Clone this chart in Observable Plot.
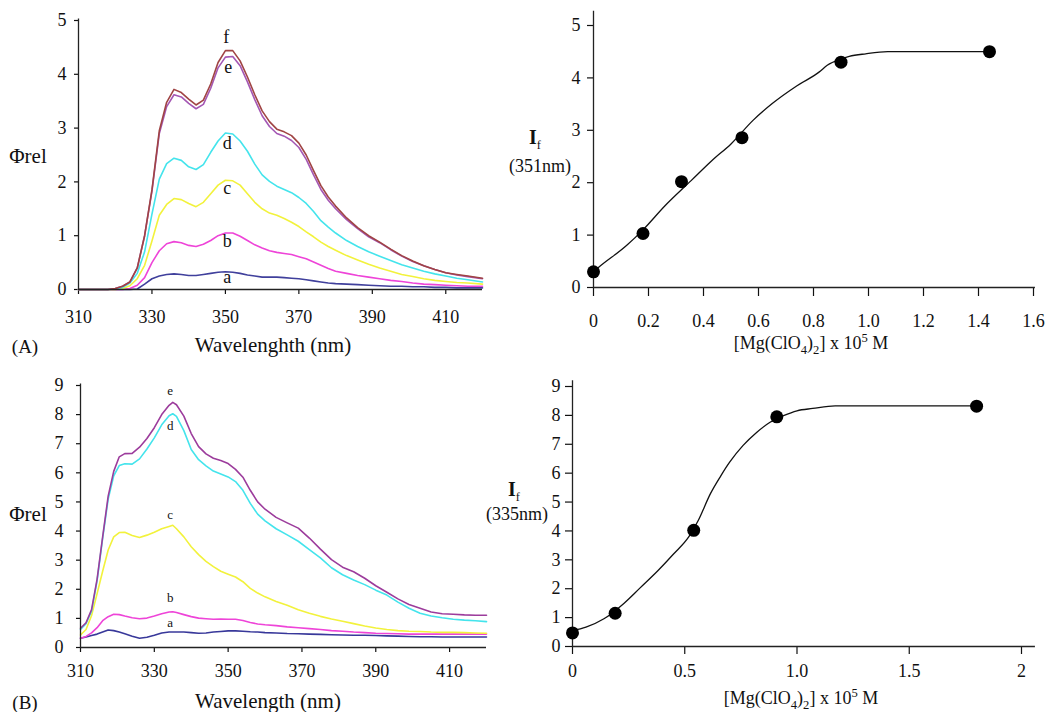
<!DOCTYPE html>
<html><head><meta charset="utf-8">
<script src="https://cdn.jsdelivr.net/npm/d3@7"></script>
<script src="https://cdn.jsdelivr.net/npm/@observablehq/plot@0.6"></script>
<style>
body{margin:0;background:#fff;}
#root{position:relative;width:1050px;height:712px;overflow:hidden;font-family:"Liberation Serif","DejaVu Serif",serif;color:#111;background:#fff;}
.p{position:absolute;}
.t{position:absolute;transform:translate(-50%,-50%);white-space:nowrap;line-height:1;}
sub,sup{line-height:0;}
svg text{font-family:"Liberation Serif","DejaVu Serif",serif;}
</style></head><body><div id="root"></div>
<script>
// ---------- Panel A (left): spectra, emission at 351 nm ----------
const wlA = [310,318,320,322,324,326,328,330,332,334,336,338,340,342,344,346,348,350,352,354,356,358,360,362,364,366,368,370,372,374,376,378,380,383,386,389,392,395,398,401,404,407,410,413,416,420];
const specA_a = [0,0,0,0,0,0.01,0.10,0.20,0.25,0.28, 0.29,0.28,0.26,0.26,0.28,0.30,0.32,0.33,0.32,0.30, 0.27,0.25,0.23,0.23,0.23,0.22,0.21,0.20,0.18,0.16, 0.14,0.12,0.11,0.10,0.09,0.08,0.07,0.06,0.06,0.05, 0.05,0.04,0.04,0.03,0.03,0.03];
const specA_b = [0,0,0,0,0.02,0.08,0.22,0.50,0.72,0.85, 0.89,0.87,0.82,0.80,0.84,0.91,1.00,1.05,1.05,0.99, 0.91,0.83,0.77,0.72,0.69,0.67,0.65,0.61,0.57,0.51, 0.45,0.39,0.34,0.30,0.26,0.23,0.20,0.17,0.15,0.12, 0.10,0.09,0.08,0.07,0.06,0.06];
const specA_c = [0,0,0,0.02,0.07,0.20,0.45,0.90,1.38,1.58, 1.69,1.67,1.60,1.54,1.62,1.78,1.94,2.03,2.02,1.94, 1.78,1.62,1.50,1.42,1.38,1.32,1.25,1.17,1.07,0.98, 0.88,0.80,0.73,0.63,0.55,0.47,0.40,0.34,0.28,0.24, 0.20,0.17,0.15,0.13,0.12,0.10];
const specA_d = [0,0,0.01,0.04,0.12,0.30,0.70,1.40,2.05,2.34, 2.44,2.40,2.28,2.23,2.32,2.55,2.76,2.91,2.89,2.76, 2.57,2.33,2.13,2.01,1.92,1.86,1.80,1.71,1.60,1.45, 1.28,1.16,1.05,0.91,0.80,0.70,0.62,0.54,0.46,0.40, 0.34,0.29,0.25,0.21,0.18,0.14];
const specA_e = [0,0,0.02,0.06,0.14,0.40,1.0,1.83,2.90,3.40, 3.62,3.58,3.46,3.36,3.44,3.74,4.12,4.32,4.33,4.16, 3.86,3.53,3.23,3.03,2.90,2.85,2.77,2.64,2.42,2.13, 1.86,1.66,1.50,1.30,1.13,0.98,0.87,0.74,0.62,0.52, 0.44,0.37,0.31,0.27,0.24,0.20];
const specA_f = [0,0,0.02,0.06,0.14,0.40,1.0,1.85,2.95,3.48, 3.72,3.66,3.54,3.43,3.52,3.82,4.22,4.44,4.44,4.25, 3.95,3.62,3.32,3.12,2.98,2.93,2.86,2.72,2.50,2.21, 1.93,1.72,1.55,1.33,1.15,1.00,0.88,0.75,0.63,0.53, 0.44,0.37,0.31,0.28,0.25,0.21];
const curveLabelsA = ["a","b","c","d","e","f"];
const curveLabelXA = [350.5,350.5,350.5,350.5,350.8,350.2];
const curveLabelYA = [0.23,0.90,1.88,2.71,4.13,4.69];
const xTicksA = [310,330,350,370,390,410];
const xTickLabelsA = ["310","330","350","370","390","410"];
const yTicksA = [0,1,2,3,4,5];
const yTickLabelsA = ["0","1","2","3","4","5"];

// ---------- Panel A (right): titration at 351 nm ----------
const concA = [0, 0.18, 0.32, 0.54, 0.90, 1.44];
const ifA = [0.30, 1.03, 2.02, 2.86, 4.30, 4.50];
const fitXA = [0, 0.02, 0.12, 0.18, 0.26, 0.355, 0.43, 0.50, 0.58, 0.65, 0.74, 0.82, 0.85, 0.90, 0.93, 0.99, 1.07, 1.45];
const fitYA = [0.30, 0.39, 0.80, 1.10, 1.56, 2.04, 2.42, 2.74, 3.19, 3.51, 3.85, 4.11, 4.24, 4.36, 4.41, 4.46, 4.50, 4.50];
const xTicksAR = [0,0.2,0.4,0.6,0.8,1.0,1.2,1.4,1.6];
const xTickLabelsAR = ["0","0.2","0.4","0.6","0.8","1.0","1.2","1.4","1.6"];
const yTicksAR = [0,1,2,3,4,5];
const yTickLabelsAR = ["0","1","2","3","4","5"];

// ---------- Panel B (left): spectra, emission at 335 nm ----------
const wlB = [310,311.5,313,314.5,316,317.5,319,320.5,322,324, 326,328,330,332,334,335,336,338,340,342, 344,346,348,350,352,354,356,358,360,363, 366,369,372,375,378,381,384,387,390,393, 396,399,402,405,408,411,414,417,420];
const specB_a = [0.32,0.36,0.41,0.46,0.53,0.60,0.58,0.53,0.47,0.39, 0.32,0.35,0.42,0.50,0.53,0.53,0.53,0.53,0.51,0.49, 0.50,0.53,0.55,0.57,0.57,0.56,0.54,0.53,0.51,0.50, 0.48,0.47,0.46,0.45,0.44,0.43,0.42,0.42,0.41,0.40, 0.39,0.38,0.37,0.37,0.36,0.36,0.36,0.36,0.36];
const specB_b = [0.32,0.38,0.50,0.68,0.92,1.06,1.14,1.13,1.08,1.02, 0.99,1.01,1.08,1.16,1.22,1.23,1.20,1.13,1.06,1.01, 0.99,0.97,0.98,0.97,0.97,0.93,0.86,0.81,0.78,0.75, 0.71,0.68,0.65,0.62,0.58,0.56,0.53,0.51,0.49,0.48, 0.47,0.46,0.46,0.46,0.46,0.46,0.46,0.46,0.46];
const specB_c = [0.43,0.62,1.10,1.85,2.62,3.35,3.80,3.95,3.96,3.85, 3.78,3.86,3.96,4.08,4.16,4.20,4.08,3.80,3.46,3.19, 2.96,2.78,2.62,2.52,2.42,2.26,2.03,1.87,1.74,1.58, 1.45,1.30,1.18,1.07,0.98,0.90,0.82,0.74,0.67,0.62, 0.58,0.56,0.55,0.53,0.52,0.52,0.51,0.50,0.49];
const specB_d = [0.62,0.82,1.25,2.30,3.75,5.10,5.90,6.25,6.31,6.30, 6.48,6.82,7.20,7.65,7.96,8.03,7.94,7.45,6.80,6.45, 6.24,6.06,5.96,5.86,5.70,5.40,4.95,4.58,4.35,4.08, 3.87,3.65,3.36,3.08,2.74,2.50,2.32,2.16,1.97,1.80, 1.56,1.35,1.18,1.08,1.02,0.97,0.94,0.92,0.89];
const specB_e = [0.66,0.85,1.30,2.35,3.80,5.20,6.05,6.55,6.66,6.67, 6.88,7.18,7.55,8.00,8.32,8.42,8.34,7.95,7.35,6.90, 6.65,6.50,6.42,6.32,6.12,5.85,5.40,5.00,4.75,4.47, 4.28,4.10,3.76,3.38,3.02,2.76,2.60,2.38,2.12,1.90, 1.67,1.48,1.35,1.22,1.16,1.14,1.12,1.11,1.11];
const curveLabelsB = ["a","b","c","d","e"];
const curveLabelXB = [334.3,334.3,334.3,334.3,334.3];
const curveLabelYB = [0.86,1.69,4.55,7.60,8.83];
const xTicksB = [310,330,350,370,390,410];
const xTickLabelsB = ["310","330","350","370","390","410"];
const yTicksB = [0,1,2,3,4,5,6,7,8,9];
const yTickLabelsB = ["0","1","2","3","4","5","6","7","8","9"];

// ---------- Panel B (right): titration at 335 nm ----------
const concB = [0, 0.19, 0.54, 0.91, 1.80];
const ifB = [0.47, 1.15, 4.02, 7.95, 8.32];
const fitXB = [0, 0.06, 0.14, 0.23, 0.30, 0.38, 0.45, 0.52, 0.56, 0.615, 0.66, 0.70, 0.76, 0.82, 0.88, 0.94, 1.0, 1.07, 1.17, 1.80];
const fitYB = [0.55, 0.67, 0.96, 1.50, 2.02, 2.62, 3.20, 3.82, 4.36, 5.30, 5.90, 6.38, 6.96, 7.41, 7.76, 7.99, 8.16, 8.24, 8.33, 8.33];
const xTicksBR = [0,0.5,1.0,1.5,2];
const xTickLabelsBR = ["0","0.5","1.0","1.5","2"];
const yTicksBR = [0,1,2,3,4,5,6,7,8,9];
const yTickLabelsBR = ["0","1","2","3","4","5","6","7","8","9"];

// ---------- helpers ----------
const colA = {a:"#40409c", b:"#ee44d8", c:"#f2f23c", d:"#44e4ec", e:"#a457b4", f:"#a04444"};
const colB = {a:"#38389a", b:"#ee44d8", c:"#f2f23c", d:"#44e4ec", e:"#9c3c9c"};
const rows = (xs, ys) => xs.map((x, i) => ({x, y: ys[i]}));
const fmt = (ticks, labels) => { const m = new Map(ticks.map((t, i) => [t, labels[i]])); return d => m.get(d) ?? String(d); };
const FONT = '"Liberation Serif","DejaVu Serif",serif';
const baseStyle = {fontFamily: FONT, fontSize: "18px", color: "#111", background: "transparent", overflow: "visible"};
const root = document.getElementById("root");
function place(el, left, top) { const w = document.createElement("div"); w.className = "p"; w.style.left = left + "px"; w.style.top = top + "px"; w.appendChild(el); root.appendChild(w); }
function label(html, x, y, size, extra) { const d = document.createElement("div"); d.className = "t"; d.style.left = x + "px"; d.style.top = y + "px"; d.style.fontSize = size + "px"; if (extra) Object.assign(d.style, extra); d.innerHTML = html; root.appendChild(d); }

// ---------- Plot A left ----------
const seriesA = [["a",specA_a],["b",specA_b],["c",specA_c],["d",specA_d],["e",specA_e],["f",specA_f]];
place(Plot.plot({
  width: 510, height: 335, marginLeft: 78, marginRight: 28, marginTop: 20, marginBottom: 46,
  style: baseStyle,
  x: {domain: [310, 420]}, y: {domain: [0, 5]},
  marks: [
    Plot.axisX({ticks: xTicksA, tickFormat: fmt(xTicksA, xTickLabelsA), tickSize: 5, tickPadding: 15.5, label: null, strokeWidth: 1.2, fontFamily: FONT}),
    Plot.axisY({ticks: yTicksA, tickFormat: fmt(yTicksA, yTickLabelsA), tickSize: 4, tickPadding: 8, label: null, strokeWidth: 1.2, fontFamily: FONT}),
    ...seriesA.map(([k, v]) => Plot.line(rows(wlA, v), {x: "x", y: "y", stroke: colA[k], strokeWidth: 1.6})),
    Plot.ruleY([0], {x1: 310, x2: 420, stroke: "#222", strokeWidth: 1.3}),
    Plot.ruleX([310], {y1: 0, y2: 5.03, stroke: "#222", strokeWidth: 1.3}),
    Plot.text(curveLabelsA, {x: (d, i) => curveLabelXA[i], y: (d, i) => curveLabelYA[i], text: d => d, fontSize: 18, fill: "#111", fontFamily: FONT})
  ]
}), 0, 0);

// ---------- Plot A right ----------
place(Plot.plot({
  width: 540, height: 335, marginLeft: 83, marginRight: 17, marginTop: 25, marginBottom: 48,
  style: baseStyle,
  x: {domain: [0, 1.6]}, y: {domain: [0, 5]},
  marks: [
    Plot.axisX({ticks: xTicksAR, tickFormat: fmt(xTicksAR, xTickLabelsAR), tickSize: 9, tickPadding: 18, label: null, strokeWidth: 1.2, fontFamily: FONT}),
    Plot.axisY({ticks: yTicksAR, tickFormat: fmt(yTicksAR, yTickLabelsAR), tickSize: 6, tickPadding: 7, label: null, strokeWidth: 1.2, fontFamily: FONT}),
    Plot.ruleY([0], {x1: 0, x2: 1.607, stroke: "#222", strokeWidth: 1.3}),
    Plot.ruleX([0], {y1: 0, y2: 5.27, stroke: "#222", strokeWidth: 1.3}),
    Plot.line(rows(fitXA, fitYA), {x: "x", y: "y", stroke: "#111", strokeWidth: 1.3, curve: "monotone-x"}),
    Plot.dot(rows(concA, ifA), {x: "x", y: "y", r: 6.5, fill: "#000", stroke: "none"})
  ]
}), 510, 0);

// ---------- Plot B left ----------
const seriesB = [["a",specB_a],["b",specB_b],["c",specB_c],["d",specB_d],["e",specB_e]];
place(Plot.plot({
  width: 510, height: 357, marginLeft: 80, marginRight: 24, marginTop: 30, marginBottom: 65,
  style: baseStyle,
  x: {domain: [310, 420]}, y: {domain: [0, 9]},
  marks: [
    Plot.axisX({ticks: xTicksB, tickFormat: fmt(xTicksB, xTickLabelsB), tickSize: 5, tickPadding: 12, label: null, strokeWidth: 1.2, fontFamily: FONT}),
    Plot.axisY({ticks: yTicksB, tickFormat: fmt(yTicksB, yTickLabelsB), tickSize: 4, tickPadding: 13, label: null, strokeWidth: 1.2, fontFamily: FONT}),
    ...seriesB.map(([k, v]) => Plot.line(rows(wlB, v), {x: "x", y: "y", stroke: colB[k], strokeWidth: 1.6})),
    Plot.ruleY([0], {x1: 310, x2: 420, stroke: "#222", strokeWidth: 1.3}),
    Plot.ruleX([310], {y1: 0, y2: 9.05, stroke: "#222", strokeWidth: 1.3}),
    Plot.text(curveLabelsB, {x: (d, i) => curveLabelXB[i], y: (d, i) => curveLabelYB[i], text: d => d, fontSize: 13, fill: "#111", fontFamily: FONT})
  ]
}), 0, 355);

// ---------- Plot B right ----------
place(Plot.plot({
  width: 540, height: 357, marginLeft: 62, marginRight: 29, marginTop: 31, marginBottom: 66,
  style: baseStyle,
  x: {domain: [0, 2]}, y: {domain: [0, 9]},
  marks: [
    Plot.axisX({ticks: xTicksBR, tickFormat: fmt(xTicksBR, xTickLabelsBR), tickSize: 8, tickPadding: 9.5, label: null, strokeWidth: 1.2, fontFamily: FONT}),
    Plot.axisY({ticks: yTicksBR, tickFormat: fmt(yTicksBR, yTickLabelsBR), tickSize: 7, tickPadding: 5, label: null, strokeWidth: 1.2, fontFamily: FONT}),
    Plot.ruleY([0], {x1: 0, x2: 2.062, stroke: "#222", strokeWidth: 1.3}),
    Plot.ruleX([0], {y1: 0, y2: 9.2, stroke: "#222", strokeWidth: 1.3}),
    Plot.line(rows(fitXB, fitYB), {x: "x", y: "y", stroke: "#111", strokeWidth: 1.3, curve: "monotone-x"}),
    Plot.dot(rows(concB, ifB), {x: "x", y: "y", r: 6.5, fill: "#000", stroke: "none"})
  ]
}), 510, 355);

// ---------- text labels ----------
label("Φrel", 28, 156, 21);
label("(A)", 25, 346, 19);
label("Wavelenghth (nm)", 273, 345, 21);
label('<b>I</b><sub style="font-size:0.62em">f</sub>', 535, 137, 20);
label("(351nm)", 540, 166, 18);
label('[Mg(ClO<sub style="font-size:0.7em">4</sub>)<sub style="font-size:0.7em">2</sub>] x 10<sup style="font-size:0.7em">5</sup> M', 811, 343, 18);
label("Φrel", 28, 514, 21);
label("(B)", 25, 702, 19);
label("Wavelength (nm)", 268, 701, 21);
label('<b>I</b><sub style="font-size:0.62em">f</sub>', 514, 489, 20);
label("(335nm)", 517, 514, 18);
label('[Mg(ClO<sub style="font-size:0.7em">4</sub>)<sub style="font-size:0.7em">2</sub>] x 10<sup style="font-size:0.7em">5</sup> M', 801, 698, 18);
</script>
</body></html>
